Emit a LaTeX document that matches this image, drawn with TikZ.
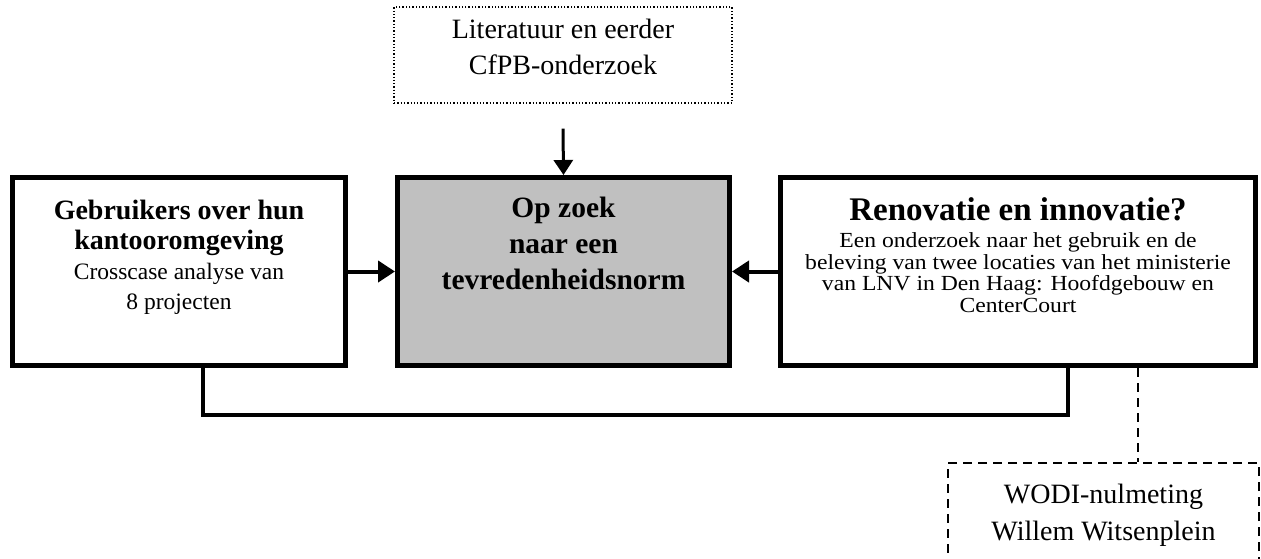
\documentclass[tikz,border=0pt]{standalone}
\usepackage{fontspec}
\setmainfont{Liberation Serif}
\newfontfamily\widefont[FakeStretch=1.1]{Liberation Serif}
\usetikzlibrary{arrows.meta}
\definecolor{boxgray}{HTML}{C0C0C0}
\tikzset{
  thickbox/.style={draw, line width=5pt, inner sep=0pt},
  txt/.style={align=center, inner sep=0pt, anchor=base},
  arr/.style={line width=4pt, -{Triangle[length=17pt,width=21pt]}},
  link/.style={line width=3.5pt},
  dashlink/.style={line width=1.8pt, dash pattern=on 9pt off 6pt},
}
\begin{document}
\begin{tikzpicture}[x=1pt,y=-1pt]
\useasboundingbox (0,0) rectangle (1261,558);
\clip (0,0) rectangle (1261,558);
% boxes
\node[draw, dotted, line width=1.3pt, minimum width=338pt, minimum height=96pt, inner sep=0pt] (lit) at (563,55) {};
\node[thickbox, minimum width=333pt, minimum height=188pt] (lb) at (179,271.5) {};
\node[thickbox, fill=boxgray, minimum width=332pt, minimum height=188pt] (cb) at (563.5,271.5) {};
\node[thickbox, minimum width=475pt, minimum height=188pt] (rb) at (1018,271.5) {};
\node[draw, dashlink, fill=white, minimum width=311pt, minimum height=137pt, inner sep=0pt] (wodi) at (1103.5,531.5) {};
% texts (base = last line)
\node[txt, font=\fontsize{28}{36}\selectfont] (littxt) at (563,74) {Literatuur en eerder\\CfPB-onderzoek};
\node[txt, font=\fontsize{23.5}{30}\selectfont] (lbtxt) at (179,309) {\textbf{\fontsize{28}{30}\selectfont Gebruikers over hun}\\\textbf{\fontsize{28}{30}\selectfont kantooromgeving}\\Crosscase analyse van\\8 projecten};
\node[txt, font=\bfseries\fontsize{29.5}{36}\selectfont] (cbtxt) at (563.5,289) {Op zoek\\naar een\\tevredenheidsnorm};
\node[txt, font=\widefont\fontsize{21.5}{21.5}\selectfont] (rbtxt) at (1018,312) {\textbf{\rmfamily\fontsize{33}{22}\selectfont Renovatie en innovatie?}\\[5.5pt]Een onderzoek naar het gebruik en de\\beleving van twee locaties van het ministerie\\van LNV in Den Haag: Hoofdgebouw en\\CenterCourt};
\node[txt, font=\fontsize{28}{37}\selectfont] (wodtxt) at (1103.5,540) {WODI-nulmeting\\Willem Witsenplein};
% connectors
\draw[line width=3pt, -{Triangle[length=15pt,width=19pt]}] ([yshift=-25pt]lit.south) -- (cb.north);
\draw[arr] (lb.east) -- (cb.west);
\draw[arr] (rb.west) -- (cb.east);
\coordinate (bl) at (203,415);
\coordinate (br) at (1068,415);
\draw[link] (lb.south -| bl) -- (bl) -- (br) -- (rb.south -| br);
\coordinate (dj) at (1138,440);
\draw[dashlink] (rb.south -| dj) -- (wodi.north -| dj);
\end{tikzpicture}
\end{document}
